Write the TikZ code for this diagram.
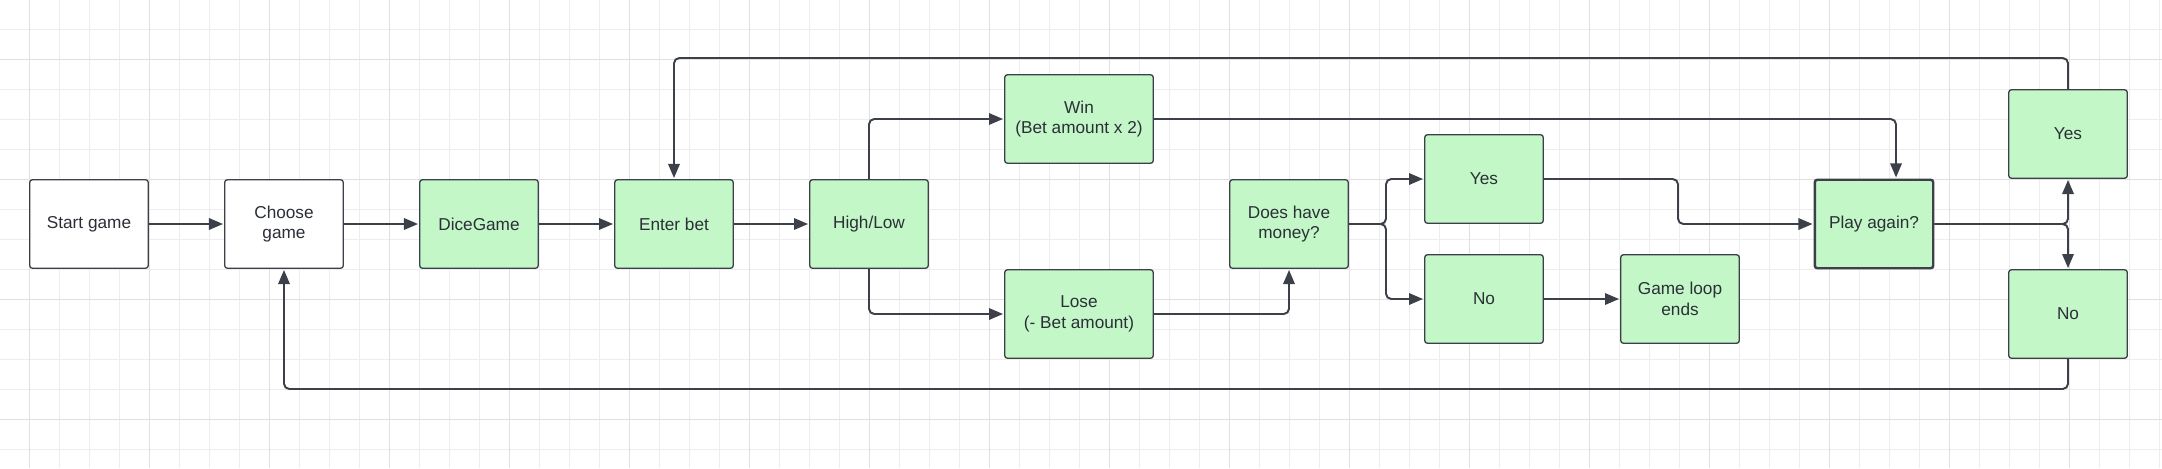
\documentclass[tikz,border=0pt]{standalone}
\usepackage{fontspec}
\setmainfont{Liberation Sans}
\usetikzlibrary{arrows.meta}

\definecolor{boxgreen}{HTML}{C3F7C8}
\definecolor{edgegray}{HTML}{3B4049}
\definecolor{textgray}{HTML}{2B2F36}
\definecolor{gridminor}{HTML}{EDEDED}
\definecolor{gridmajor}{HTML}{E0E0E0}

\tikzset{
  stepbox/.style={rectangle, rounded corners=1.5pt, draw=edgegray, line width=0.75pt,
    minimum width=2.37cm, minimum height=1.77cm, inner sep=2pt, align=center,
    text=textgray, font=\fontsize{9.8}{11.6}\selectfont},
  greenbox/.style={stepbox, fill=boxgreen},
  widebox/.style={greenbox, minimum width=2.97cm},
  whitebox/.style={stepbox, fill=white},
  link/.style={draw=edgegray, line width=1.1pt, rounded corners=3pt,
    -{Triangle[length=8pt,width=6.5pt]}, shorten >=0.6pt}
}

\begin{document}
\begin{tikzpicture}[x=0.02cm, y=-0.02cm]
      \useasboundingbox (0,0) rectangle (2162,468);
      \fill[white] (0,0) rectangle (2162,468);

      \foreach \gx in {29,59,...,2159} \draw[gridminor, line width=0.45pt] (\gx,0) -- (\gx,468);
      \foreach \gy in {29,59,...,449} \draw[gridminor, line width=0.45pt] (0,\gy) -- (2162,\gy);
      \foreach \gx in {29,149,...,2159} \draw[gridmajor, line width=0.5pt] (\gx,0) -- (\gx,468);
      \foreach \gy in {59,179,...,419} \draw[gridmajor, line width=0.5pt] (0,\gy) -- (2162,\gy);

      \node[whitebox] (start) at (89,224) {Start game};
      \node[whitebox] (choose) at (284,224) {Choose\\game};
      \node[greenbox] (dice) at (479,224) {DiceGame};
      \node[greenbox] (enter) at (674,224) {Enter bet};
      \node[greenbox] (highlow) at (869,224) {High/Low};
      \node[widebox] (win) at (1079,119) {Win\\(Bet amount x 2)};
      \node[widebox] (lose) at (1079,314) {Lose\\(- Bet amount)};
      \node[greenbox] (money) at (1289,224) {Does have\\money?};
      \node[greenbox] (hasyes) at (1484,179) {Yes};
      \node[greenbox] (hasno) at (1484,299) {No};
      \node[greenbox] (loopend) at (1680,299) {Game loop\\ends};
      \node[greenbox, line width=1.4pt] (again) at (1874,224) {Play again?};
      \node[greenbox] (againyes) at (2068,134) {Yes};
      \node[greenbox] (againno) at (2068,314) {No};

      \coordinate (split) at (1386,224);
      \coordinate (turn) at (1678,179);
      \coordinate (topright) at (2068,58);
      \coordinate (botright) at (2068,389);

      \draw[link] (start) -- (choose);
      \draw[link] (choose) -- (dice);
      \draw[link] (dice) -- (enter);
      \draw[link] (enter) -- (highlow);
      \draw[link] (highlow.north) |- (win.west);
      \draw[link] (highlow.south) |- (lose.west);
      \draw[link] (lose.east) -| (money.south);
      \draw[link] (money.east) -- (split) |- (hasyes.west);
      \draw[link] (money.east) -- (split) |- (hasno.west);
      \draw[link] (hasno) -- (loopend);
      \draw[link] (hasyes.east) -- (turn) |- (again.west);
      \draw[link] (win.east) -| ([xshift=0.44cm]again.north);
      \draw[link] (again.east) -| (againyes.south);
      \draw[link] (again.east) -| (againno.north);
      \draw[link] (againyes.north) -- (topright) -| (enter.north);
      \draw[link] (againno.south) -- (botright) -| (choose.south);
    \end{tikzpicture}
\end{document}
